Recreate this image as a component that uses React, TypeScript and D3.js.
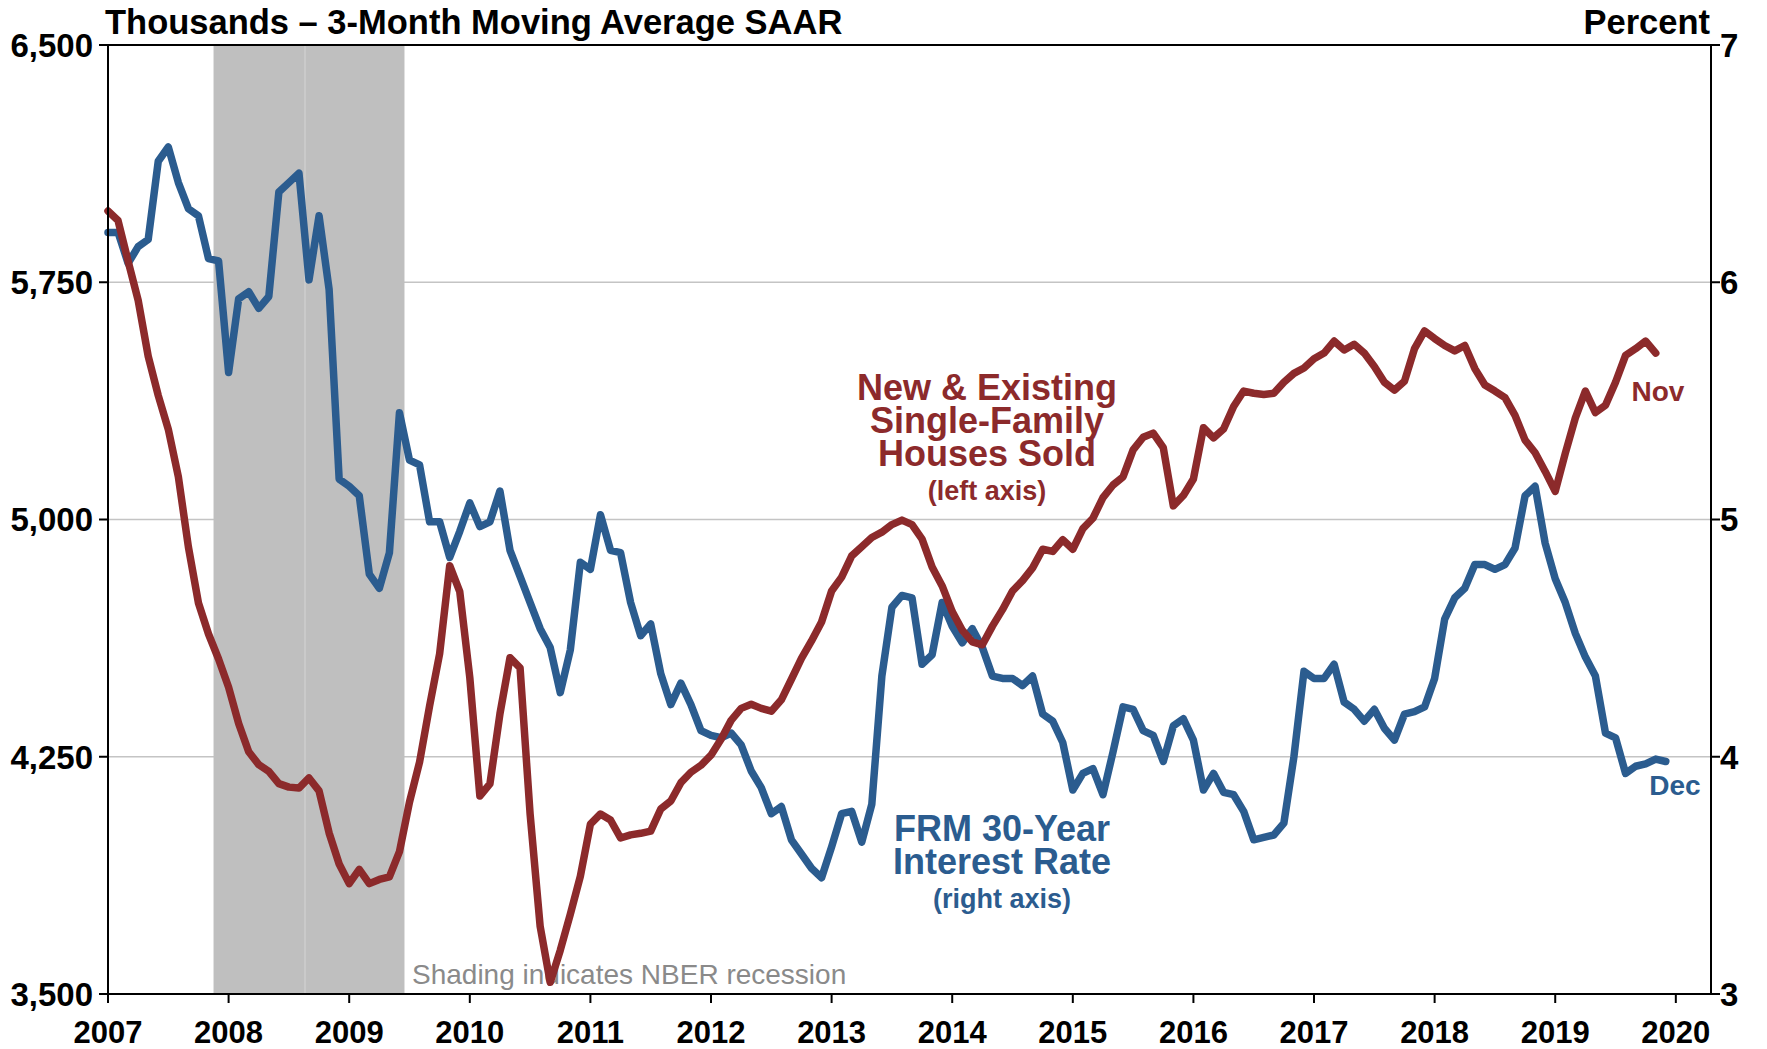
import React from 'react';
import * as d3 from 'd3';

const width = 1767;
const height = 1049;

// monthly, Jan 2007 .. Nov 2019, thousands (3-mo MA SAAR)
const homeSales = [
  5975, 5945, 5817, 5693, 5516, 5392, 5285, 5135, 4913, 4736, 4638, 4559, // 2007
  4470, 4355, 4266, 4225, 4204, 4165, 4154, 4151, 4183, 4142, 4009, 3911, // 2008
  3849, 3894, 3849, 3862, 3870, 3950, 4107, 4233, 4411, 4576, 4854, 4772, // 2009
  4500, 4126, 4164, 4386, 4563, 4531, 4069, 3714, 3537, 3638, 3752, 3872, // 2010
  4037, 4069, 4050, 3993, 4003, 4008, 4015, 4085, 4110, 4168, 4201, 4223, // 2011
  4255, 4305, 4365, 4403, 4416, 4403, 4394, 4430, 4495, 4561, 4616, 4676, // 2012
  4774, 4818, 4885, 4914, 4943, 4960, 4984, 4998, 4984, 4938, 4850, 4790, // 2013
  4709, 4650, 4613, 4604, 4663, 4715, 4774, 4807, 4847, 4906, 4899, 4936, // 2014
  4906, 4971, 5004, 5069, 5109, 5135, 5220, 5260, 5273, 5227, 5043, 5076, // 2015
  5128, 5290, 5258, 5286, 5357, 5406, 5399, 5395, 5399, 5434, 5462, 5479, // 2016
  5508, 5526, 5564, 5536, 5554, 5526, 5484, 5434, 5409, 5437, 5540, 5596, // 2017
  5572, 5550, 5533, 5550, 5477, 5425, 5406, 5385, 5329, 5251, 5211, 5152, // 2018
  5089, 5209, 5321, 5406, 5338, 5361, 5434, 5519, 5540, 5564, 5526, // 2019
];

// monthly, Jan 2007 .. Dec 2019, percent
const frmRate = [
  6.21, 6.21, 6.08, 6.15, 6.18, 6.51, 6.57, 6.42, 6.31, 6.28, 6.10, 6.09, // 2007
  5.62, 5.93, 5.96, 5.89, 5.94, 6.38, 6.42, 6.46, 6.01, 6.28, 5.97, 5.17, // 2008
  5.14, 5.10, 4.77, 4.71, 4.86, 5.45, 5.25, 5.23, 4.99, 4.99, 4.84, 4.95, // 2009
  5.07, 4.97, 4.99, 5.12, 4.87, 4.76, 4.65, 4.54, 4.46, 4.27, 4.45, 4.82, // 2010
  4.79, 5.02, 4.87, 4.86, 4.65, 4.51, 4.56, 4.35, 4.22, 4.31, 4.22, 4.11, // 2011
  4.09, 4.08, 4.10, 4.05, 3.94, 3.87, 3.76, 3.79, 3.65, 3.59, 3.53, 3.49, // 2012
  3.62, 3.76, 3.77, 3.64, 3.80, 4.34, 4.63, 4.68, 4.67, 4.39, 4.43, 4.65, // 2013
  4.55, 4.48, 4.54, 4.46, 4.34, 4.33, 4.33, 4.30, 4.34, 4.18, 4.15, 4.06, // 2014
  3.86, 3.93, 3.95, 3.84, 4.02, 4.21, 4.20, 4.11, 4.09, 3.98, 4.13, 4.16, // 2015
  4.07, 3.86, 3.93, 3.85, 3.84, 3.77, 3.65, 3.66, 3.67, 3.72, 4.00, 4.36, // 2016
  4.33, 4.33, 4.39, 4.23, 4.20, 4.15, 4.20, 4.12, 4.07, 4.18, 4.19, 4.21, // 2017
  4.33, 4.58, 4.67, 4.71, 4.81, 4.81, 4.79, 4.81, 4.88, 5.10, 5.14, 4.90, // 2018
  4.75, 4.65, 4.52, 4.42, 4.34, 4.10, 4.08, 3.93, 3.96, 3.97, 3.99, 3.98, // 2019
];

const years = [2007, 2008, 2009, 2010, 2011, 2012, 2013, 2014, 2015, 2016, 2017, 2018, 2019, 2020];
const leftTicks = [3500, 4250, 5000, 5750, 6500];
const rightTicks = [3, 4, 5, 6, 7];
// NBER recession Dec 2007 - Jun 2009, in months since Jan 2007
const recession = [10.5, 29.5];

const RED = '#8c2a2b';
const BLUE = '#2b5c8f';
const FONT = '"Liberation Sans", Arial, sans-serif';

const App: React.FC = () => {
  const left = 108;
  const right = 1711;
  const top = 45;
  const bottom = 994;

  const x = d3.scaleLinear().domain([0, 159.5]).range([left, right]);
  const yL = d3.scaleLinear().domain([3500, 6500]).range([bottom, top]);
  const yR = d3.scaleLinear().domain([3, 7]).range([bottom, top]);

  const salesLine = d3
    .line<number>()
    .x((_, i) => x(i))
    .y(d => yL(d));
  const rateLine = d3
    .line<number>()
    .x((_, i) => x(i))
    .y(d => yR(d));

  const monthOf = (yr: number) => (yr - 2007) * 12;

  return (
    <svg
      width={width}
      height={height}
      style={{ position: 'absolute', left: 0, top: 0, background: '#fff' }}
      fontFamily={FONT}
    >
      {/* gridlines */}
      {leftTicks.slice(1, -1).map(t => (
        <line key={t} x1={left} x2={right} y1={yL(t)} y2={yL(t)} stroke="#c4c4c4" strokeWidth={1.5} />
      ))}

      {/* recession shading */}
      <rect
        x={x(recession[0])}
        y={top}
        width={x(recession[1]) - x(recession[0])}
        height={bottom - top}
        fill="#bfbfbf"
      />
      <line x1={x(19.6)} x2={x(19.6)} y1={top} y2={bottom} stroke="#d2d2d2" strokeWidth={1.2} />

      <text x={412} y={984} fontSize={28} fill="#8a8a8a">
        Shading indicates NBER recession
      </text>

      {/* series */}
      <path d={rateLine(frmRate) || ''} fill="none" stroke={BLUE} strokeWidth={7.5} strokeLinejoin="round" strokeLinecap="round" />
      <path d={salesLine(homeSales) || ''} fill="none" stroke={RED} strokeWidth={7.5} strokeLinejoin="round" strokeLinecap="round" />

      {/* frame */}
      <rect x={left} y={top} width={right - left} height={bottom - top} fill="none" stroke="#000" strokeWidth={2} />

      {/* left axis */}
      {leftTicks.map(t => (
        <g key={t}>
          <line x1={left - 9} x2={left} y1={yL(t)} y2={yL(t)} stroke="#000" strokeWidth={2} />
          <text x={93} y={yL(t)} dy="0.36em" textAnchor="end" fontSize={33} fontWeight="bold">
            {d3.format(',')(t)}
          </text>
        </g>
      ))}

      {/* right axis */}
      {rightTicks.map(t => (
        <g key={t}>
          <line x1={right} x2={right + 9} y1={yR(t)} y2={yR(t)} stroke="#000" strokeWidth={2} />
          <text x={1720} y={yR(t)} dy="0.36em" textAnchor="start" fontSize={33} fontWeight="bold">
            {t}
          </text>
        </g>
      ))}

      {/* bottom axis */}
      {years.map(yr => (
        <g key={yr}>
          <line x1={x(monthOf(yr))} x2={x(monthOf(yr))} y1={bottom} y2={bottom + 9} stroke="#000" strokeWidth={2} />
          <text x={x(monthOf(yr))} y={1043} textAnchor="middle" fontSize={31} fontWeight="bold">
            {yr}
          </text>
        </g>
      ))}

      {/* axis titles */}
      <text x={105} y={34} fontSize={34.5} fontWeight="bold">
        Thousands – 3-Month Moving Average SAAR
      </text>
      <text x={1710} y={34} textAnchor="end" fontSize={34.5} fontWeight="bold">
        Percent
      </text>

      {/* annotations */}
      <g fill={RED} fontWeight="bold" textAnchor="middle">
        <text x={987} y={400} fontSize={36}>New &amp; Existing</text>
        <text x={987} y={433} fontSize={36}>Single-Family</text>
        <text x={987} y={466} fontSize={36}>Houses Sold</text>
        <text x={987} y={500} fontSize={27}>(left axis)</text>
        <text x={1658} y={401} fontSize={28}>Nov</text>
      </g>
      <g fill={BLUE} fontWeight="bold" textAnchor="middle">
        <text x={1002} y={841} fontSize={36}>FRM 30-Year</text>
        <text x={1002} y={874} fontSize={36}>Interest Rate</text>
        <text x={1002} y={908} fontSize={27}>(right axis)</text>
        <text x={1675} y={795} fontSize={28}>Dec</text>
      </g>
    </svg>
  );
};

export default App;
